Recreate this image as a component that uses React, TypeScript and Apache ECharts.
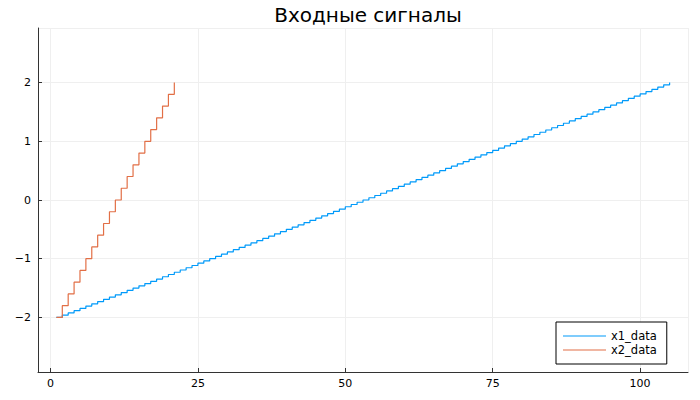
import React, { useEffect, useRef } from "react";
import * as echarts from "echarts";

const title = "Входные сигналы";
const seriesNames = ["x1_data", "x2_data"];
const colors = ["#009AFA", "#E26F46"];

const x1Values = [
  -2, -1.9615, -1.9231, -1.8846, -1.8462, -1.8077, -1.7692, -1.7308, -1.6923, -1.6538,
  -1.6154, -1.5769, -1.5385, -1.5, -1.4615, -1.4231, -1.3846, -1.3462, -1.3077, -1.2692,
  -1.2308, -1.1923, -1.1538, -1.1154, -1.0769, -1.0385, -1,
  -0.9615, -0.9231, -0.8846, -0.8462, -0.8077, -0.7692, -0.7308, -0.6923, -0.6538,
  -0.6154, -0.5769, -0.5385, -0.5, -0.4615, -0.4231, -0.3846, -0.3462, -0.3077, -0.2692,
  -0.2308, -0.1923, -0.1538, -0.1154, -0.0769, -0.0385, 0,
  0.0385, 0.0769, 0.1154, 0.1538, 0.1923, 0.2308, 0.2692, 0.3077, 0.3462, 0.3846,
  0.4231, 0.4615, 0.5, 0.5385, 0.5769, 0.6154, 0.6538, 0.6923, 0.7308, 0.7692,
  0.8077, 0.8462, 0.8846, 0.9231, 0.9615, 1,
  1.0385, 1.0769, 1.1154, 1.1538, 1.1923, 1.2308, 1.2692, 1.3077, 1.3462, 1.3846,
  1.4231, 1.4615, 1.5, 1.5385, 1.5769, 1.6154, 1.6538, 1.6923, 1.7308, 1.7692,
  1.8077, 1.8462, 1.8846, 1.9231, 1.9615, 2,
];

const x2Values = [
  -2, -1.8, -1.6, -1.4, -1.2, -1, -0.8, -0.6, -0.4, -0.2, 0,
  0.2, 0.4, 0.6, 0.8, 1, 1.2, 1.4, 1.6, 1.8, 2,
];

const xRange = [-2.12, 108.12];
const yRange = [-2.93, 2.93];

const fmt = (v: number) => (v < 0 ? "\u2212" + String(-v) : String(v));

export default function App() {
  const ref = useRef<HTMLDivElement>(null);
  useEffect(() => {
    if (!ref.current) return;
    const chart = echarts.init(ref.current, null, { renderer: "svg" });
    const font = "DejaVu Sans";
    chart.setOption({
      animation: false,
      backgroundColor: "#ffffff",
      title: {
        text: title,
        left: 363,
        textAlign: "center",
        top: 0,
        textStyle: { fontFamily: font, fontSize: 20, fontWeight: "normal", color: "#000" },
      },
      legend: {
        left: 556,
        top: 322,
        orient: "vertical",
        icon: "rect",
        itemWidth: 43,
        itemHeight: 1,
        itemGap: 2,
        padding: [8, 10, 8, 7],
        borderColor: "#000",
        borderWidth: 1,
        backgroundColor: "#fff",
        textStyle: { fontFamily: font, fontSize: 11.5, color: "#000" },
        data: seriesNames.map((n, i) => ({
          name: n,
          itemStyle: { color: colors[i], borderWidth: 0 },
        })),
      },
      grid: { left: 38, right: 12, top: 28, bottom: 28, containLabel: false },
      xAxis: {
        type: "value",
        min: xRange[0],
        max: xRange[1],
        minInterval: 25,
        maxInterval: 25,
        axisLine: { show: true, onZero: false, lineStyle: { color: "#333", width: 1 } },
        axisTick: { show: true, inside: true, length: 4, lineStyle: { color: "#333" } },
        axisLabel: {
          showMinLabel: false,
          showMaxLabel: false,
          fontFamily: font,
          fontSize: 11,
          color: "#000",
          margin: 6,
          formatter: fmt,
        },
        splitLine: { show: true, lineStyle: { color: "#efefef", width: 1 } },
      },
      yAxis: {
        type: "value",
        min: yRange[0],
        max: yRange[1],
        minInterval: 1,
        maxInterval: 1,
        axisLine: { show: true, onZero: false, lineStyle: { color: "#333", width: 1 } },
        axisTick: { show: true, inside: true, length: 4, lineStyle: { color: "#333" } },
        axisLabel: {
          showMinLabel: false,
          showMaxLabel: false,
          fontFamily: font,
          fontSize: 11,
          color: "#000",
          margin: 7,
          formatter: fmt,
        },
        splitLine: { show: true, lineStyle: { color: "#efefef", width: 1 } },
      },
      series: [
        {
          name: seriesNames[0],
          type: "line",
          step: "end",
          showSymbol: false,
          symbol: "none",
          itemStyle: { color: colors[0] },
          lineStyle: { width: 1.2, color: colors[0] },
          data: x1Values.map((v, i) => [i + 1, v]),
        },
        {
          name: seriesNames[1],
          type: "line",
          step: "end",
          showSymbol: false,
          symbol: "none",
          itemStyle: { color: colors[1] },
          lineStyle: { width: 1.2, color: colors[1] },
          data: x2Values.map((v, i) => [i + 1, v]),
        },
      ],
    });
    return () => chart.dispose();
  }, []);
  return <div ref={ref} style={{ width: 700, height: 400, position: "absolute", left: 0, top: 0 }} />;
}
